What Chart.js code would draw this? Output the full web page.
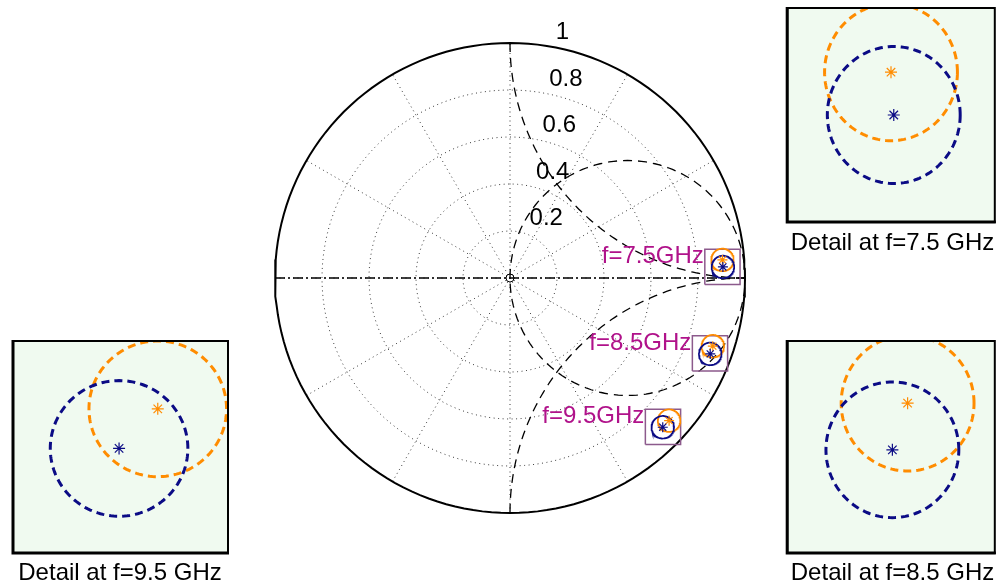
<!DOCTYPE html>
<html>
<head>
<meta charset="utf-8">
<script src="https://cdn.jsdelivr.net/npm/chart.js@4.4.1/dist/chart.umd.min.js"></script>
<style>
  html, body { margin: 0; padding: 0; background: #fff; width: 1002px; height: 585px; overflow: hidden; }
  canvas { position: absolute; }
</style>
</head>
<body>
<canvas id="main" width="1002" height="585" style="left:0;top:0"></canvas>
<canvas id="d75" width="222" height="260" style="left:780px;top:0"></canvas>
<canvas id="d85" width="222" height="255" style="left:780px;top:330px"></canvas>
<canvas id="d95" width="240" height="255" style="left:0;top:330px"></canvas>
<script>
// Reflection coefficient at three frequencies: measured value, estimate,
// and the radius of the uncertainty circle around each (all in Γ units).
const freqLabels   = ['f=7.5GHz', 'f=8.5GHz', 'f=9.5GHz'];
const detailTitles = ['Detail at f=7.5 GHz', 'Detail at f=8.5 GHz', 'Detail at f=9.5 GHz'];
const measRe = [0.906, 0.852, 0.650];
const measIm = [0.047, -0.323, -0.635];
const estRe  = [0.904, 0.863, 0.677];
const estIm  = [0.077, -0.290, -0.607];
const uncRadius = [0.048, 0.048, 0.048];
// Detail windows (centre and half-width, Γ units)
const winRe = [0.904, 0.851, 0.651];
const winIm = [0.047, -0.321, -0.634];
const winHalf = 0.075;
// Polar grid
const ringRadii  = [0.2, 0.4, 0.6, 0.8];
const ringLabels = ['0.2', '0.4', '0.6', '0.8', '1'];
const ringLabelValues = [0.2, 0.4, 0.6, 0.8, 1.0];
const spokeAngles = [0, 30, 60, 90, 120, 150];

const FONT = '"Liberation Sans", Arial, Helvetica, sans-serif';
const ORANGE = '#ff8c00';
const NAVY = '#0b0b85';
const BOXCOL = '#8c5a8c';
const LABELCOL = '#b0128a';
const GRIDCOL = '#3a3a3a';

function arc(cx, cy, r, t0, t1, n) {
  const pts = [];
  for (let i = 0; i <= n; i++) {
    const t = t0 + (t1 - t0) * i / n;
    pts.push({ x: cx + r * Math.cos(t), y: cy + r * Math.sin(t) });
  }
  return pts;
}
const circle = (cx, cy, r) => arc(cx, cy, r, 0, 2 * Math.PI, 160);

function lineSet(data, color, width, dash, order) {
  return { data, showLine: true, borderColor: color, borderWidth: width, borderDash: dash || [],
           pointRadius: 0, fill: false, tension: 0, clip: false, order: order };
}
function starSet(x, y, color, order, size) {
  return { data: [{ x, y }], showLine: false, pointStyle: 'star', pointRadius: size || 5,
           borderColor: color, backgroundColor: color, borderWidth: 1.2, clip: false, order: order };
}

// ---------- main chart ----------
const mainSets = [];
ringRadii.forEach(r => mainSets.push(lineSet(circle(0, 0, r), GRIDCOL, 1, [1, 3.5], 50)));
spokeAngles.forEach(a => {
  const t = a * Math.PI / 180;
  mainSets.push(lineSet([{ x: -Math.cos(t), y: -Math.sin(t) }, { x: Math.cos(t), y: Math.sin(t) }], GRIDCOL, 1, [1, 3.5], 50));
});
mainSets.push(lineSet(circle(0, 0, 1), '#000', 2, [], 40));
// Smith chart contours: r = 1 circle, x = +1 and x = -1 arcs
mainSets.push(lineSet(circle(0.5, 0, 0.5), '#000', 1.3, [9, 6], 30));
mainSets.push(lineSet(arc(1, 1, 1, Math.PI, 1.5 * Math.PI, 120), '#000', 1.3, [9, 6], 30));
mainSets.push(lineSet(arc(1, -1, 1, 0.5 * Math.PI, Math.PI, 120), '#000', 1.3, [9, 6], 30));
mainSets.push(lineSet([{ x: -1, y: 0 }, { x: 1, y: 0 }], '#000', 1.3, [10, 3, 2, 3], 30));
mainSets.push({ data: [{ x: 0, y: 0 }], showLine: false, pointStyle: 'circle', pointRadius: 4,
                borderColor: '#000', backgroundColor: 'rgba(0,0,0,0)', borderWidth: 1, clip: false, order: 30 });
for (let i = 0; i < freqLabels.length; i++) {
  const x0 = winRe[i] - winHalf, x1 = winRe[i] + winHalf, y0 = winIm[i] - winHalf, y1 = winIm[i] + winHalf;
  mainSets.push(lineSet([{ x: x0, y: y0 }, { x: x1, y: y0 }, { x: x1, y: y1 }, { x: x0, y: y1 }, { x: x0, y: y0 }], BOXCOL, 1.5, [], 20));
  mainSets.push(lineSet(circle(estRe[i], estIm[i], uncRadius[i]), ORANGE, 1.7, [], 12));
  mainSets.push(lineSet(circle(measRe[i], measIm[i], uncRadius[i]), NAVY, 1.7, [], 11));
  mainSets.push(starSet(estRe[i], estIm[i], ORANGE, 10));
  mainSets.push(starSet(measRe[i], measIm[i], NAVY, 9));
}

const mainLabels = {
  id: 'mainLabels',
  afterDraw(chart) {
    const { ctx, scales: { x, y } } = chart;
    ctx.save();
    ctx.font = '24px ' + FONT;
    ctx.fillStyle = '#000';
    ctx.textAlign = 'left';
    ctx.textBaseline = 'alphabetic';
    const ang = 82 * Math.PI / 180;
    ringLabelValues.forEach((r, k) => {
      const px = x.getPixelForValue(r * Math.cos(ang));
      const py = y.getPixelForValue(r * Math.sin(ang));
      ctx.fillText(ringLabels[k], px + 13, py - 6);
    });
    ctx.fillStyle = LABELCOL;
    ctx.textAlign = 'right';
    for (let i = 0; i < freqLabels.length; i++) {
      const px = x.getPixelForValue(winRe[i] - winHalf);
      const py = y.getPixelForValue(winIm[i] + winHalf);
      ctx.fillText(freqLabels[i], px - 1, py + 14);
    }
    ctx.restore();
  }
};

const hiddenAxis = (min, max) => ({ type: 'linear', min, max, display: false });
const baseOptions = {
  responsive: false, animation: false, events: [],
  plugins: { legend: { display: false }, tooltip: { enabled: false }, title: { display: false } }
};

new Chart(document.getElementById('main'), {
  type: 'scatter',
  data: { datasets: mainSets },
  options: Object.assign({}, baseOptions, {
    layout: { padding: { left: 275, right: 257, top: 43, bottom: 72 } },
    scales: { x: hiddenAxis(-1, 1), y: hiddenAxis(-1, 1) }
  }),
  plugins: [mainLabels]
});

// ---------- detail charts ----------
function detailChart(id, i, pad, titleX) {
  const sets = [
    Object.assign(lineSet(circle(estRe[i], estIm[i], uncRadius[i]), ORANGE, 3, [8, 5], 3), { clip: 0 }),
    Object.assign(lineSet(circle(measRe[i], measIm[i], uncRadius[i]), NAVY, 3, [8, 5], 2), { clip: 0 }),
    starSet(estRe[i], estIm[i], ORANGE, 1, 6),
    starSet(measRe[i], measIm[i], NAVY, 0, 6)
  ];
  const frame = {
    id: 'frame' + id,
    beforeDraw(chart) {
      const { ctx, chartArea: a } = chart;
      ctx.save();
      ctx.fillStyle = '#f0faf0';
      ctx.fillRect(a.left, a.top, a.right - a.left, a.bottom - a.top);
      ctx.restore();
    },
    afterDraw(chart) {
      const { ctx, chartArea: a } = chart;
      ctx.save();
      ctx.strokeStyle = '#000';
      ctx.lineWidth = 2;
      ctx.strokeRect(a.left, a.top, a.right - a.left, a.bottom - a.top);
      ctx.lineWidth = 3;
      ctx.beginPath();
      ctx.moveTo(a.left, a.top - 1);
      ctx.lineTo(a.left, a.bottom);
      ctx.lineTo(a.right + 1, a.bottom);
      ctx.stroke();
      ctx.font = '24px ' + FONT;
      ctx.fillStyle = '#000';
      ctx.textAlign = 'center';
      ctx.textBaseline = 'alphabetic';
      ctx.fillText(detailTitles[i], titleX, 250);
      ctx.restore();
    }
  };
  new Chart(document.getElementById(id), {
    type: 'scatter',
    data: { datasets: sets },
    options: Object.assign({}, baseOptions, {
      layout: { padding: pad },
      scales: {
        x: hiddenAxis(winRe[i] - winHalf, winRe[i] + winHalf),
        y: hiddenAxis(winIm[i] - winHalf, winIm[i] + winHalf)
      }
    }),
    plugins: [frame]
  });
}
detailChart('d75', 0, { left: 7, right: 4, top: 8, bottom: 38 }, 112.5);
detailChart('d85', 1, { left: 7, right: 4, top: 11, bottom: 32 }, 112.5);
detailChart('d95', 2, { left: 13, right: 12, top: 11, bottom: 32 }, 120);
</script>
</body>
</html>
